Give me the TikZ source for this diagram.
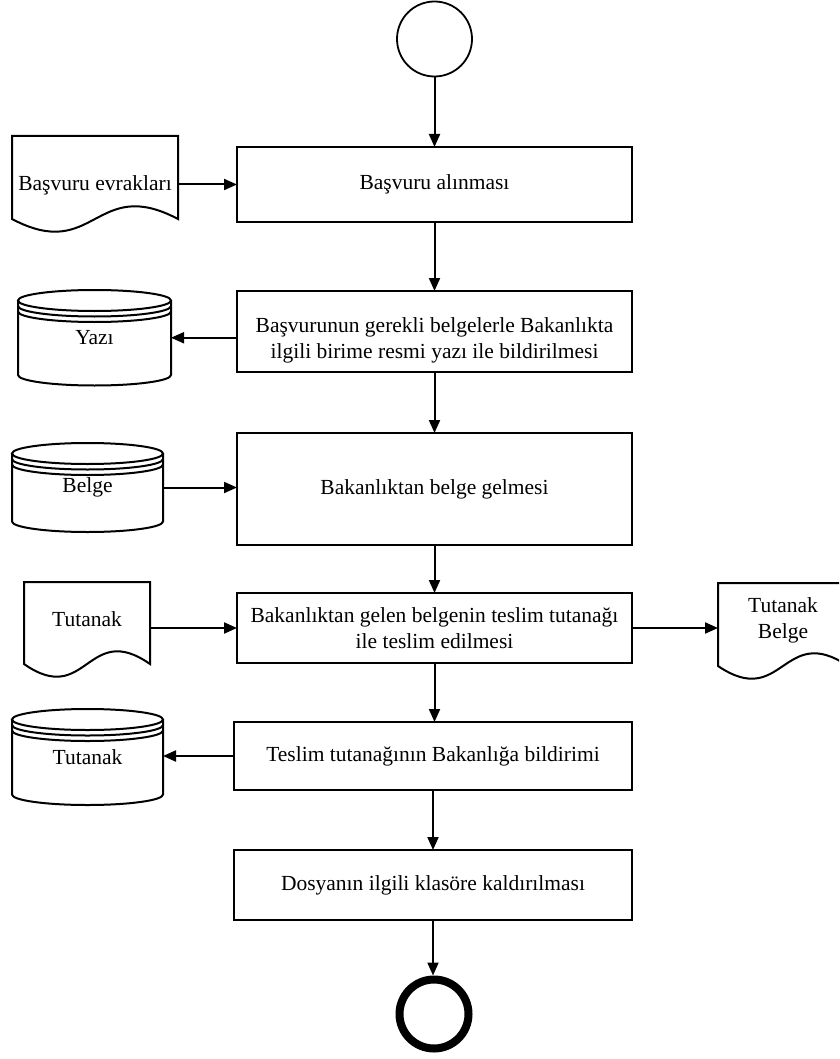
\documentclass[tikz,border=0pt]{standalone}
\usepackage{fontspec}
\setmainfont{Liberation Serif}
\usetikzlibrary{arrows.meta,calc}

% document symbol: flat top, straight sides, wavy bottom
\newcommand\wavedoc[1]{%
  \draw[shapeline] (#1.south east) -- (#1.north east) -- (#1.north west) -- (#1.south west)
    .. controls ($(#1.south)+(0,44)$) and ($(#1.south)+(0,-44)$) .. (#1.south east) -- cycle;}

% stored-data drum: top ellipse, two rims, body and front bottom arc
\newcommand\drum[3]{%
  \draw[shapeline] (#1.north) ellipse[x radius=#2pt, y radius=#3pt];
  \draw[shapeline] ($(#1.north west)+(0,5.5)$) arc[start angle=180, end angle=360, x radius=#2pt, y radius=#3pt];
  \draw[shapeline] ($(#1.north west)+(0,11)$) arc[start angle=180, end angle=360, x radius=#2pt, y radius=#3pt];
  \draw[shapeline] (#1.north west) -- (#1.south west)
    arc[start angle=180, end angle=360, x radius=#2pt, y radius=#3pt] -- (#1.north east);}

\begin{document}
\begin{tikzpicture}[x=1pt, y=-1pt,
  font=\fontsize{21.5}{26}\selectfont,
  shapeline/.style={line width=2pt, line join=miter},
  procbox/.style={draw, line width=2pt, inner sep=0pt, outer sep=0pt, align=center},
  shapebox/.style={inner sep=0pt, outer sep=0pt, align=center},
  lbl/.style={inner sep=0pt, align=center},
  arr/.style={line width=2pt, -{Triangle[length=13pt, width=11pt]}}]

\useasboundingbox (0,0) rectangle (839,1059);
\clip (0,0) rectangle (839,1059);

% start and end events
\node[draw, circle, line width=1.8pt, minimum size=75pt, inner sep=0pt] (start) at (434.5,39) {};
\node[draw, circle, line width=8pt, minimum size=69pt, inner sep=0pt] (stop) at (434,1014) {};

% process steps
\node[procbox, minimum width=395pt, minimum height=75pt] (b1) at (434.5,184.5) {Başvuru alınması};
\node[procbox, minimum width=395pt, minimum height=81pt] (b2) at (434.5,331.5) {};
\node[lbl] (b2t) at (434.5,340) {Başvurunun gerekli belgelerle Bakanlıkta\\ilgili birime resmi yazı ile bildirilmesi};
\node[procbox, minimum width=395pt, minimum height=112pt] (b3) at (434.5,489) {Bakanlıktan belge gelmesi};
\node[procbox, minimum width=395pt, minimum height=70pt] (b4) at (434.5,628) {Bakanlıktan gelen belgenin teslim tutanağı\\ile teslim edilmesi};
\node[procbox, minimum width=398pt, minimum height=68pt] (b5) at (433,756) {Teslim tutanağının Bakanlığa bildirimi};
\node[procbox, minimum width=398pt, minimum height=70pt] (b6) at (433,885) {Dosyanın ilgili klasöre kaldırılması};

% documents
\node[shapebox, minimum width=166pt, minimum height=83pt] (d1) at (95,177.5) {};
\wavedoc{d1}
\node[lbl] (d1t) at (95,185) {Başvuru evrakları};

\node[shapebox, minimum width=126pt, minimum height=82pt] (d2) at (87,623) {};
\wavedoc{d2}
\node[lbl] (d2t) at (87,619) {Tutanak};

\node[shapebox, minimum width=130pt, minimum height=83pt] (d3) at (783,624.5) {};
\wavedoc{d3}
\node[lbl] (d3t) at (783,620) {Tutanak\\Belge};

% stored data
\node[shapebox, minimum width=153pt, minimum height=74.5pt] (c1) at (94.5,337.75) {Yazı};
\drum{c1}{76.5}{10.5}
\node[shapebox, minimum width=151pt, minimum height=68pt] (c2) at (87.5,487.5) {Belge};
\drum{c2}{75.5}{10.5}
\node[shapebox, minimum width=151pt, minimum height=75pt] (c3) at (87.5,757) {Tutanak};
\drum{c3}{75.5}{10.5}

% main flow
\draw[arr] (start) -- (b1);
\draw[arr] (b1) -- (b2);
\draw[arr] (b2) -- (b3);
\draw[arr] (b3) -- (b4);
\draw[arr] (b4.south) -- (b4.south |- b5.north);
\draw[arr] (b5) -- (b6);
\draw[arr] (b6.south) -- (b6.south |- stop.north);

% side flows
\draw[arr] (d1.east |- b1.west) -- (b1.west);
\draw[arr] (b2.west |- c1.east) -- (c1.east);
\draw[arr] (c2.east) -- (c2.east -| b3.west);
\draw[arr] (d2.east |- b4.west) -- (b4.west);
\draw[arr] (b4.east) -- (b4.east -| d3.west);
\draw[arr] (b5.west) -- (b5.west -| c3.east);
\end{tikzpicture}
\end{document}
